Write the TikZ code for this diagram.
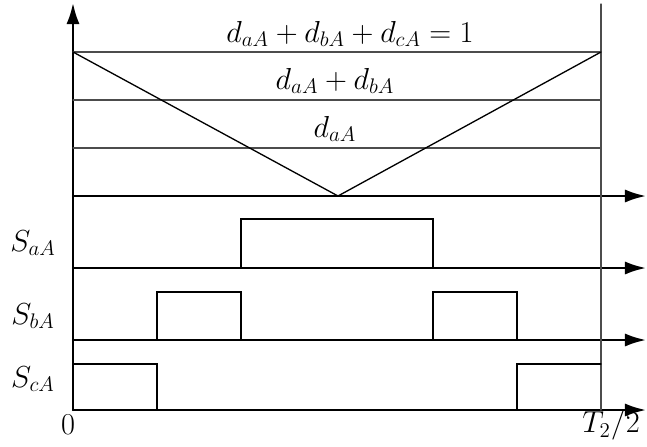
\documentclass[tikz,border=0pt]{standalone}
\usetikzlibrary{arrows.meta}
\tikzset{
  axis/.style={line width=1.4pt,-{Latex[length=12pt,width=7.5pt]}},
  level/.style={line width=0.75pt,black!70},
  pulse/.style={line width=0.75pt},
  lbl/.style={font=\fontsize{17}{20}\selectfont},
}
\begin{document}
\begin{tikzpicture}[x=0.02cm,y=-0.02cm,line cap=round]
  \useasboundingbox (0,0) rectangle (647,447);
  % time axes
  \coordinate (o) at (73,410);
  \coordinate (top) at (73,3);
  \draw[axis] (o) -- (top);
  \foreach \y/\n in {196/a,268/b,340/c,410/d}{
    \coordinate (s\n) at (73,\y);
    \coordinate (e\n) at (646,\y);
    \draw[axis] (s\n) -- (e\n);
  }
  % half period line
  \coordinate (tt) at (601,4);
  \coordinate (tb) at (601,410);
  \draw[level] (tt) -- (tb);
  % duty levels and carrier
  \foreach \y/\n in {52/one,100/two,148/three}{
    \coordinate (l\n) at (73,\y);
    \coordinate (r\n) at (601,\y);
    \draw[level] (l\n) -- (r\n);
  }
  \coordinate (mid) at (338,196);
  \draw[pulse] (lone) -- (mid) -- (rone);
  \node[lbl] (sum3) at (350,34) {$d_{aA}+d_{bA}+d_{cA}=1$};
  \node[lbl] (sum2) at (335,81) {$d_{aA}+d_{bA}$};
  \node[lbl] (sum1) at (335,129) {$d_{aA}$};
  % switching signals
  \draw[pulse] (241,268) -- (241,219) -- (433,219) -- (433,268);
  \draw[pulse] (157,340) -- (157,292) -- (241,292) -- (241,340);
  \draw[pulse] (433,340) -- (433,292) -- (517,292) -- (517,340);
  \draw[pulse] (73,364) -- (157,364) -- (157,410);
  \draw[pulse] (517,410) -- (517,364) -- (601,364);
  \node[lbl] (sa) at (33,243) {$S_{aA}$};
  \node[lbl] (sb) at (33,316) {$S_{bA}$};
  \node[lbl] (sc) at (33,379) {$S_{cA}$};
  \node[lbl] (zero) at (68,425) {$0$};
  \node[lbl] (half) at (611,425) {$T_2/2$};
\end{tikzpicture}
\end{document}
